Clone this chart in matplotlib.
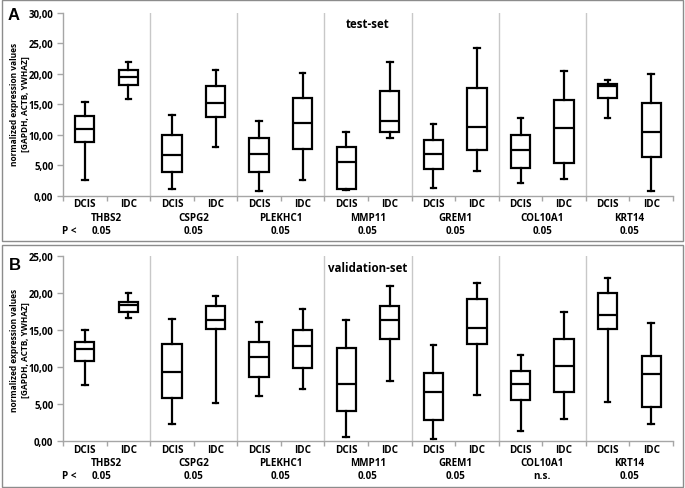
import matplotlib
matplotlib.use("Agg")
import matplotlib.pyplot as plt
from matplotlib.patches import Rectangle
from matplotlib.ticker import FuncFormatter, MultipleLocator

genes = ["THBS2", "CSPG2", "PLEKHC1", "MMP11", "GREM1", "COL10A1", "KRT14"]
groups = ["DCIS", "IDC"]

# Panel A (test-set): per gene, DCIS then IDC -> (whislo, q1, med, q3, whishi)
test_whislo = [2.5, 15.8, 1.1, 7.9, 0.7, 2.5, 0.9, 9.4, 1.2, 4.1, 2.1, 2.7, 12.8, 0.8]
test_q1     = [8.8, 18.1, 3.9, 12.9, 3.9, 7.7, 1.0, 10.4, 4.4, 7.5, 4.6, 5.3, 16.0, 6.3]
test_med    = [10.9, 19.4, 6.7, 15.2, 6.8, 12.0, 5.5, 12.2, 6.8, 11.2, 7.4, 11.1, 18.0, 10.5]
test_q3     = [13.1, 20.7, 10.0, 18.0, 9.5, 16.0, 7.9, 17.1, 9.1, 17.7, 10.0, 15.7, 18.4, 15.2]
test_whishi = [15.4, 22.0, 13.3, 20.7, 12.2, 20.1, 10.5, 22.0, 11.7, 24.2, 12.8, 20.4, 19.0, 19.9]
test_p = ["0.05", "0.05", "0.05", "0.05", "0.05", "0.05", "0.05"]

# Panel B (validation-set)
val_whislo = [7.6, 16.6, 2.3, 5.1, 6.1, 7.0, 0.5, 8.1, 0.3, 6.25, 1.4, 3.0, 5.3, 2.25]
val_q1     = [10.8, 17.4, 5.8, 15.1, 8.7, 9.9, 4.0, 13.8, 2.8, 13.1, 5.6, 6.65, 15.1, 4.6]
val_med    = [12.4, 18.4, 9.3, 16.4, 11.3, 12.8, 7.7, 16.4, 6.6, 15.3, 7.7, 10.2, 17.0, 9.0]
val_q3     = [13.4, 18.8, 13.1, 18.3, 13.4, 15.0, 12.6, 18.3, 9.2, 19.2, 9.4, 13.8, 20.05, 11.5]
val_whishi = [15.0, 20.05, 16.5, 19.6, 16.1, 17.9, 16.3, 20.9, 13.0, 21.4, 11.6, 17.4, 22.0, 15.9]
val_p = ["0.05", "0.05", "0.05", "0.05", "0.05", "n.s.", "0.05"]

FONT = "Open Sans"
LBL = 7.1
W, H = 685, 489
fig = plt.figure(figsize=(W / 100, H / 100), dpi=100)

def px_rect(x0, y0, x1, y1):
    return [x0 / W, 1 - y1 / H, (x1 - x0) / W, (y1 - y0) / H]

# panel frames
for (y0, y1) in [(1, 242), (246, 488)]:
    fig.patches.append(Rectangle((1.5 / W, 1 - y1 / H), (683 - 1.5) / W, (y1 - y0) / H,
                                 transform=fig.transFigure, fill=False,
                                 edgecolor="#8c8c8c", lw=1.0))

def draw_panel(ax, lo, q1, med, q3, hi, pvals, ymax, ystep, title):
    stats = []
    for i in range(len(med)):
        stats.append(dict(whislo=lo[i], q1=q1[i], med=med[i], q3=q3[i], whishi=hi[i], fliers=[]))
    pos = list(range(len(med)))
    ax.bxp(stats, positions=pos, widths=0.44, capwidths=0.13, showfliers=False,
           patch_artist=True,
           boxprops=dict(facecolor="white", edgecolor="black", lw=1.6),
           medianprops=dict(color="black", lw=1.6),
           whiskerprops=dict(color="black", lw=1.6),
           capprops=dict(color="black", lw=1.6))
    ax.set_xlim(-0.5, len(med) - 0.5)
    ax.set_ylim(0, ymax)
    ax.yaxis.set_major_locator(MultipleLocator(ystep))
    ax.yaxis.set_major_formatter(FuncFormatter(lambda v, p: f"{v:.2f}".replace(".", ",")))
    for s in ["top", "right"]:
        ax.spines[s].set_visible(False)
    for s in ["left", "bottom"]:
        ax.spines[s].set_color("#a6a6a6")
        ax.spines[s].set_linewidth(1.0)
    ax.tick_params(axis="y", colors="#a6a6a6", length=4, width=1.0, labelsize=6.9,
                   labelcolor="black", pad=3)
    for t in ax.get_yticklabels():
        t.set_fontweight("bold")
        t.set_fontfamily(FONT)
    ax.set_xticks([i - 0.5 for i in range(len(med) + 1)])
    ax.set_xticklabels([])
    ax.tick_params(axis="x", colors="#a6a6a6", length=3.5, width=1.0)
    for g in range(1, len(genes)):
        ax.axvline(2 * g - 0.5, color="#c8c8c8", lw=1.0, zorder=0)
    tr = ax.get_xaxis_transform()
    for i in range(len(med)):
        ax.annotate(groups[i % 2], (i, 0), xycoords=tr, xytext=(0, -5.8),
                    textcoords="offset points", ha="center", va="center",
                    fontsize=LBL, fontweight="bold", fontfamily=FONT)
    for g, name in enumerate(genes):
        ax.annotate(name, (2 * g + 0.5, 0), xycoords=tr, xytext=(0, -15.6),
                    textcoords="offset points", ha="center", va="center",
                    fontsize=LBL, fontweight="bold", fontfamily=FONT)
        px = 2 * g + 0.5 if g > 0 else 0.39
        ax.annotate(pvals[g], (px, 0), xycoords=tr, xytext=(0, -25.0),
                    textcoords="offset points", ha="center", va="center",
                    fontsize=LBL, fontweight="bold", fontfamily=FONT)
    ax.annotate("P <", (-0.35, 0), xycoords=tr, xytext=(0, -25.0),
                textcoords="offset points", ha="center", va="center",
                fontsize=LBL, fontweight="bold", fontfamily=FONT)
    ax.text(6.5, 0.94, title, transform=tr, ha="center", va="center",
            fontsize=8.3, fontweight="bold", fontfamily=FONT)
    return ax

axA = fig.add_axes(px_rect(63, 14, 673, 196.5))
draw_panel(axA, test_whislo, test_q1, test_med, test_q3, test_whishi, test_p, 30, 5, "test-set")
axB = fig.add_axes(px_rect(63, 257, 673, 442))
draw_panel(axB, val_whislo, val_q1, val_med, val_q3, val_whishi, val_p, 25, 5, "validation-set")

ylab = "normalized expression values\n[GAPDH, ACTB, YWHAZ]"
fig.text(20 / W, 1 - 104 / H, ylab, rotation=90, ha="center", va="center",
         fontsize=6.0, fontweight="bold", fontfamily=FONT, linespacing=1.2)
fig.text(20 / W, 1 - 350 / H, ylab, rotation=90, ha="center", va="center",
         fontsize=6.0, fontweight="bold", fontfamily=FONT, linespacing=1.2)

fig.text(14 / W, 1 - 15 / H, "A", fontsize=12, fontweight="bold", fontfamily="Liberation Sans",
         ha="center", va="center")
fig.text(15 / W, 1 - 266 / H, "B", fontsize=12, fontweight="bold", fontfamily="Liberation Sans",
         ha="center", va="center")

fig.savefig("out.png", dpi=100)
